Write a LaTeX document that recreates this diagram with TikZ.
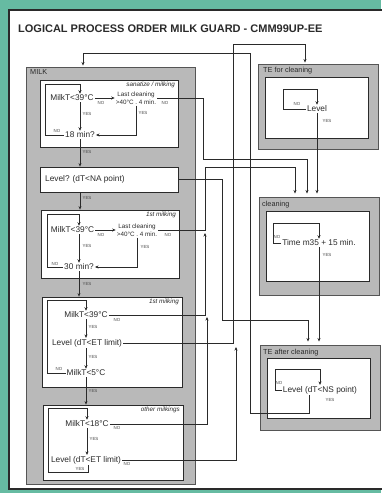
\documentclass[tikz,border=0pt]{standalone}
\usepackage{fontspec}
\setmainfont{Liberation Sans}
\usetikzlibrary{arrows.meta}
\definecolor{teal1}{HTML}{66BBA2}
\definecolor{boxgray}{HTML}{B9B9B9}
\definecolor{ink}{HTML}{2A2A2A}
\begin{document}
\begin{tikzpicture}[x=1pt,y=-1pt,
 outerbox/.style={draw=ink!80, fill=boxgray, line width=0.9pt, inner sep=0pt},
 innerbox/.style={draw=ink, fill=white, line width=0.8pt, inner sep=0pt},
 txt/.style={font=\fontsize{8.3}{9}\selectfont, inner sep=1pt, text=ink},
 lc/.style={font=\fontsize{6.3}{8}\selectfont, align=center, inner sep=1pt, text=ink},
 yn/.style={font=\fontsize{4.4}{4.4}\selectfont, inner sep=0pt, text=ink!85},
 sec/.style={font=\fontsize{7.3}{8}\selectfont, anchor=north west, inner sep=0pt, text=ink},
 sub/.style={font=\fontsize{6.3}{7}\selectfont\itshape, anchor=north east, inner sep=0pt, text=ink},
 con/.style={draw=ink, line width=0.8pt},
 arr/.style={con, -{Stealth[length=3.5pt,width=3pt]}},
]
\useasboundingbox (0,0) rectangle (381,493);
\fill[teal1] (0,0) rectangle (381,493);
\fill[white] (9,10) rectangle (383,489);
\draw[ink, line width=1.6pt] (383,489) -- (9,489) -- (9,10) -- (383,10);

\node[font=\fontsize{11}{12}\selectfont\bfseries, anchor=base west, inner sep=0pt, text=ink] (title) at (18,32) {LOGICAL PROCESS ORDER MILK GUARD - CMM99UP-EE};

% MILK column
\node[outerbox, minimum width=169pt, minimum height=417pt] (milk) at (110.5,275.5) {};
\node[sec] (milklbl) at (30,69) {MILK};
\node[innerbox, minimum width=138pt, minimum height=67pt] (b1) at (109,113.5) {};
\node[sub] (s1) at (175,82) {sanatize / milking};
\node[innerbox, minimum width=138pt, minimum height=25pt] (b2) at (109,179.5) {};
\node[innerbox, minimum width=138pt, minimum height=68pt] (b3) at (110,244) {};
\node[sub] (s3) at (176,212) {1st milking};
\node[innerbox, minimum width=140pt, minimum height=90pt] (b4) at (112,342) {};
\node[sub] (s4) at (179,299) {1st milking};
\node[innerbox, minimum width=140pt, minimum height=75pt] (b5) at (113,442.5) {};
\node[sub] (s5) at (180,407) {other milkings};

% right column
\node[outerbox, minimum width=120pt, minimum height=85pt] (teco) at (318,106.5) {};
\node[sec] (tecolbl) at (263,67) {TE for cleaning};
\node[innerbox, minimum width=103pt, minimum height=61pt] (teci) at (316.5,107.5) {};
\node[outerbox, minimum width=120pt, minimum height=98pt] (clo) at (319,246) {};
\node[sec] (clolbl) at (262,201) {cleaning};
\node[innerbox, minimum width=103pt, minimum height=70pt] (cli) at (317.5,246) {};
\node[outerbox, minimum width=120pt, minimum height=85pt] (tao) at (320,387.5) {};
\node[sec] (taolbl) at (263,349) {TE after cleaning};
\node[innerbox, minimum width=103pt, minimum height=60pt] (tai) at (318.5,388) {};

% texts
\node[txt] (t1) at (72,98) {MilkT<39°C};
\node[lc] (lc1) at (136,98) {Last cleaning\\>40°C . 4 min.};
\node[txt] (m18) at (80,135) {18 min?};
\node[txt, anchor=west] (lvl) at (44,179) {Level? (dT<NA point)};
\node[txt] (t2) at (72.5,230) {MilkT<39°C};
\node[lc] (lc2) at (137,230) {Last cleaning\\>40°C . 4 min.};
\node[txt] (m30) at (79,267) {30 min?};
\node[txt] (t3) at (86,315) {MilkT<39°C};
\node[txt] (lv3) at (87,343) {Level (dT<ET limit)};
\node[txt] (t5) at (86,373) {MilkT<5°C};
\node[txt] (t18) at (87,424) {MilkT<18°C};
\node[txt] (lv5) at (86,460) {Level (dT<ET limit)};
\node[txt] (lvTE) at (317,109) {Level};
\node[txt] (tm) at (319,243) {Time m35 + 15 min.};
\node[txt] (lvNS) at (320,390) {Level (dT<NS point)};

% box 1
\draw[arr] (t1.east) -- (lc1.west);
\node[yn] (n1a) at (101,103) {NO};
\draw[arr] (t1.south -| m18.north) -- (m18.north);
\node[yn] (y1a) at (87,114) {YES};
\draw[arr] (lc1.south) |- (m18.east);
\node[yn] (y1b) at (143,113) {YES};
\node[yn] (n1b) at (165,103) {NO};
\draw[arr] (m18.west) -| (45,84) -| (m18.north |- t1.north);
\node[yn] (n1c) at (57,131) {NO};
\draw[arr] (m18.south) -- (m18.south |- b2.north);
\node[yn] (y1c) at (87,152) {YES};
\draw[arr] (m18.south |- b2.south) -- (m18.south |- b3.north);
\node[yn] (y2) at (87,198) {YES};

% box 3
\draw[arr] (t2.east) -- (lc2.west);
\node[yn] (n3a) at (101,235) {NO};
\draw[arr] (m30.north |- t2.south) -- (m30.north);
\node[yn] (y3a) at (87,246) {YES};
\draw[arr] (lc2.south) |- (m30.east);
\node[yn] (y3b) at (145,247) {YES};
\node[yn] (n3b) at (168,235) {NO};
\draw[arr] (m30.west) -| (47,214) -| (m30.north |- t2.north);
\node[yn] (n3c) at (55,264) {NO};
\draw[arr] (m30.south) -- (m30.south |- b4.north);
\node[yn] (y3c) at (87,284) {YES};

% box 4
\draw[arr] (t3.south) -- (t3.south |- lv3.north);
\node[yn] (y4a) at (93,327) {YES};
\draw[arr] (lv3.south -| t3.south) -- (t3.south |- t5.north);
\node[yn] (y4b) at (93,357) {YES};
\draw[arr] (t5.west) -| (47,300) -| (t3.north);
\node[yn] (n4a) at (59,369) {NO};
\node[yn] (n4b) at (117,319.5) {NO};
\draw[arr] (t5.south) -- (t5.south |- b5.north);
\node[yn] (y4c) at (93,391) {YES};

% box 5
\draw[arr] (t18.south) -- (t18.south |- lv5.north);
\node[yn] (y5a) at (94,439) {YES};
\draw[arr] ([xshift=2pt]lv5.south) |- (48,472) -- (48,408) -| (t18.north);
\node[yn] (y5b) at (80,469) {YES};
\node[yn] (n5a) at (117,428) {NO};
\node[yn] (n5b) at (127,464) {NO};

% right boxes
\draw[arr] (lvTE.west) -| (283,89) -| (lvTE.north);
\node[yn] (nte) at (297,104) {NO};
\draw[arr, shorten >=3pt] (lvTE.south) -- (lvTE.south |- clo.north);
\node[yn] (yte) at (327,121) {YES};
\draw[arr] (tm.west) -| (273,223) -| (tm.north);
\node[yn] (ncl) at (277,237) {NO};
\draw[arr, shorten >=3pt] (tm.south) -- (tm.south |- tao.north);
\node[yn] (ycl) at (327,255) {YES};
\draw[arr] (lvNS.west) -| (275,369) -| (lvNS.north);
\node[yn] (nta) at (279,383) {NO};
\node[yn] (yta) at (330,400) {YES};

% cross connectors
\draw[arr, shorten >=3pt] (lc1.east) -| (203,159) -| ([xshift=-12pt]clo.north);
\draw[arr, shorten >=3pt] (lc2.east) -| (205,167) -| ([xshift=-24pt]clo.north);
\draw[arr, shorten >=3pt] (b2.east) -| (222,320) -| ([xshift=-12pt]tao.north);
\draw[arr] (t3.east) -| (205,233);
\draw[arr] (t18.east) -| (207,317);
\draw[arr, shorten >=1pt] (lv3.east) -| (233,44) -| ([xshift=-13pt]teco.north);
\draw[arr] (lv5.east) -| (236,347);
\coordinate (mtop) at (83,53);
\draw[arr, shorten >=1pt] ([xshift=-11pt]lvNS.south) |- (250,413) |- (mtop) -- (mtop |- milk.north);
\end{tikzpicture}
\end{document}
